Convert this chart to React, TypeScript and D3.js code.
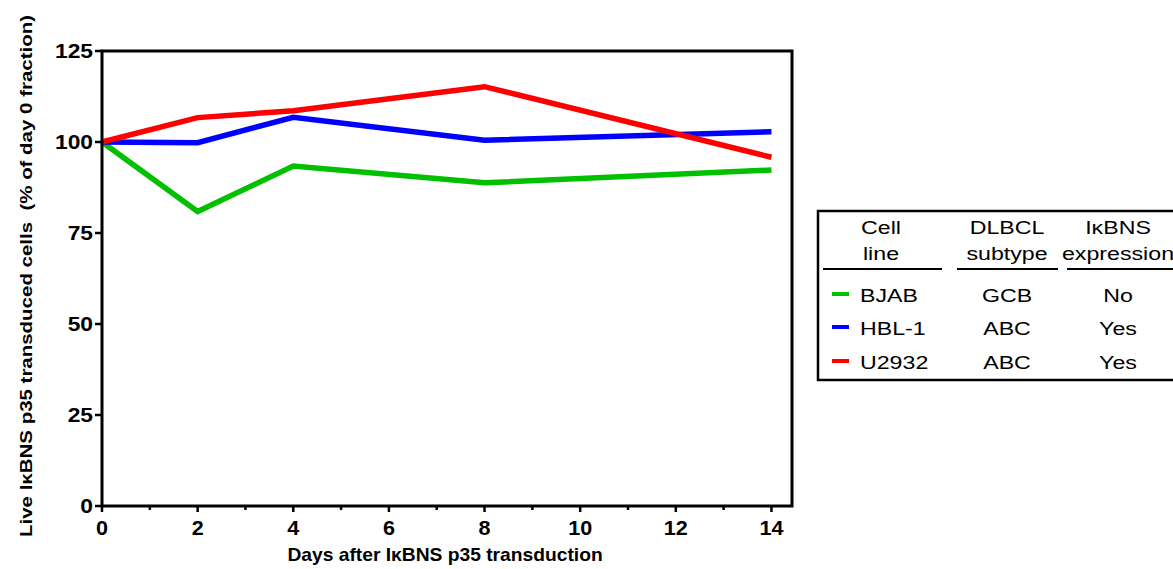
import React from 'react';
import * as d3 from 'd3';

const days = [0, 2, 4, 8, 14];
const bjab = [100, 80.9, 93.4, 88.8, 92.3];
const hbl1 = [100, 99.8, 106.8, 100.5, 102.8];
const u2932 = [100, 106.7, 108.6, 115.2, 95.8];

const seriesNames = ['BJAB', 'HBL-1', 'U2932'];
const seriesColors = ['#00c000', '#0000ff', '#ff0000'];
const subtypes = ['GCB', 'ABC', 'ABC'];
const expression = ['No', 'Yes', 'Yes'];

const xTicks = [0, 2, 4, 6, 8, 10, 12, 14];
const xMinorTicks = [1, 3, 5, 7, 9, 11, 13];
const yTicks = [0, 25, 50, 75, 100, 125];

const W = 1173;
const H = 569;
const FONT = 'Arial, "Liberation Sans", Helvetica, sans-serif';

// text stretched horizontally, like the source figure
function T({ x, y, sx = 1, anchor = 'start', size, bold = false, rotate = 0, children }: any) {
  return (
    <text transform={`translate(${x},${y}) rotate(${rotate}) scale(${sx},1)`} textAnchor={anchor}
      fontSize={size} fontWeight={bold ? 'bold' : 'normal'} style={{ whiteSpace: 'pre' }}>
      {children}
    </text>
  );
}

export default function App() {
  const x = d3.scaleLinear().domain([0, 14.43]).range([102, 792]);
  const y = d3.scaleLinear().domain([0, 125]).range([506, 51]);

  const values = [bjab, hbl1, u2932];
  const line = d3.line<number>()
    .x((_, i) => x(days[i]))
    .y(d => y(d));

  const [x0, x1] = x.range();
  const [yb, yt] = y.range();

  const lg = { left: 818, top: 211, bottom: 380 };
  const col = [881, 1007, 1118];
  const rowY = [302, 335, 369];
  const LS = 19;
  const LX = 1.22;

  return (
    <svg width={W} height={H} style={{ position: 'absolute', left: 0, top: 0, background: '#fff' }}
      fontFamily={FONT}>
      <rect x={0} y={0} width={W} height={H} fill="#fff" />

      {values.map((v, i) => (
        <path key={seriesNames[i]} d={line(v) || ''} fill="none" stroke={seriesColors[i]}
          strokeWidth={5.5} strokeLinejoin="miter" />
      ))}

      <rect x={x0} y={yt} width={x1 - x0} height={yb - yt} fill="none" stroke="#000" strokeWidth={3} />

      {yTicks.map(t => (
        <g key={'y' + t}>
          <line x1={x0 - 7} x2={x0} y1={y(t)} y2={y(t)} stroke="#000" strokeWidth={2.5} />
          <T x={x0 - 9} y={y(t) + 7} sx={1.14} anchor="end" size={20} bold>{t}</T>
        </g>
      ))}

      {xTicks.map(t => (
        <g key={'x' + t}>
          <line x1={x(t)} x2={x(t)} y1={yb} y2={yb + 6} stroke="#000" strokeWidth={2.5} />
          <T x={x(t)} y={yb + 29} sx={1.08} anchor="middle" size={20} bold>{t}</T>
        </g>
      ))}
      {xMinorTicks.map(t => (
        <line key={'m' + t} x1={x(t)} x2={x(t)} y1={yb} y2={yb + 4} stroke="#000" strokeWidth={2.5} />
      ))}

      <T x={445} y={561} sx={1.1} anchor="middle" size={17.5} bold>
        Days after IκBNS p35 transduction
      </T>
      <T x={32} y={276} rotate={-90} sx={1.28} anchor="middle" size={16} bold>
        {'Live IκBNS p35 transduced cells  (% of day 0 fraction)'}
      </T>

      <rect x={lg.left} y={lg.top} width={W - lg.left + 10} height={lg.bottom - lg.top}
        fill="#fff" stroke="#000" strokeWidth={2.5} />
      {[['Cell', 'line'], ['DLBCL', 'subtype'], ['IκBNS', 'expression']].map((h, i) => (
        <g key={'h' + i}>
          <T x={col[i]} y={234} sx={LX} anchor="middle" size={LS}>{h[0]}</T>
          <T x={col[i]} y={260} sx={LX} anchor="middle" size={LS}>{h[1]}</T>
        </g>
      ))}
      <line x1={823} x2={942} y1={269} y2={269} stroke="#000" strokeWidth={2} />
      <line x1={957} x2={1058} y1={269} y2={269} stroke="#000" strokeWidth={2} />
      <line x1={1067} x2={1175} y1={269} y2={269} stroke="#000" strokeWidth={2} />
      {seriesNames.map((n, i) => (
        <g key={n}>
          <line x1={832} x2={849} y1={rowY[i] - 8} y2={rowY[i] - 8} stroke={seriesColors[i]} strokeWidth={4} />
          <T x={860} y={rowY[i]} sx={LX} size={LS}>{n}</T>
          <T x={col[1]} y={rowY[i]} sx={LX} anchor="middle" size={LS}>{subtypes[i]}</T>
          <T x={col[2]} y={rowY[i]} sx={LX} anchor="middle" size={LS}>{expression[i]}</T>
        </g>
      ))}
    </svg>
  );
}
